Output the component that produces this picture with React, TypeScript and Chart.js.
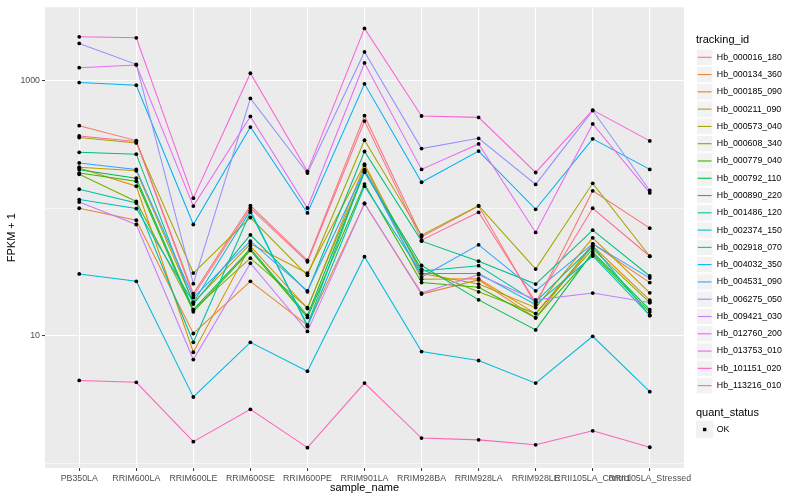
import React, { useEffect, useRef } from "react";
import { Chart, registerables } from "chart.js";

Chart.register(...registerables);

const FONT = "'Liberation Sans', Arial, Helvetica, sans-serif";

const categories = [
  "PB350LA",
  "RRIM600LA",
  "RRIM600LE",
  "RRIM600SE",
  "RRIM600PE",
  "RRIM901LA",
  "RRIM928BA",
  "RRIM928LA",
  "RRIM928LE",
  "RRII105LA_Control",
  "RRII105LA_Stressed",
];

const trackingIds = [
  "Hb_000016_180",
  "Hb_000134_360",
  "Hb_000185_090",
  "Hb_000211_090",
  "Hb_000573_040",
  "Hb_000608_340",
  "Hb_000779_040",
  "Hb_000792_110",
  "Hb_000890_220",
  "Hb_001486_120",
  "Hb_002374_150",
  "Hb_002918_070",
  "Hb_004032_350",
  "Hb_004531_090",
  "Hb_006275_050",
  "Hb_009421_030",
  "Hb_012760_200",
  "Hb_013753_010",
  "Hb_101151_020",
  "Hb_113216_010",
];

const seriesColors = [
  "#F8766D", "#EA8331", "#D89000", "#C09B00", "#A3A500",
  "#7CAE00", "#39B600", "#00BB4E", "#00BF7D", "#00C1A3",
  "#00BFC4", "#00BAE0", "#00B0F6", "#35A2FF", "#9590FF",
  "#C77CFF", "#E76BF3", "#FA62DB", "#FF62BC", "#FF6C91",
];

// FPKM + 1 per sample (in category order)
const Hb_000016_180 = [445, 340, 21.4, 105, 39, 533, 59.7, 104, 17.5, 137, 69.8];
const Hb_000134_360 = [100, 80.5, 10.4, 26.7, 12.1, 109, 21.2, 27.4, 13.8, 52.6, 26.1];
const Hb_000185_090 = [207, 149, 7.41, 50.5, 16.3, 217, 27.7, 28.0, 14.9, 50.5, 19.0];
const Hb_000211_090 = [210, 197, 18.2, 52.6, 30.9, 222, 30.7, 25.4, 16.6, 58.6, 21.7];
const Hb_000573_040 = [359, 326, 31.0, 84.6, 29.8, 342, 61.5, 105, 33.3, 157, 42.0];
const Hb_000608_340 = [185, 113, 16.0, 40.6, 16.6, 195, 33.2, 22.1, 14.9, 47.9, 18.2];
const Hb_000779_040 = [189, 163, 15.4, 46.7, 13.9, 155, 26.1, 24.0, 13.8, 43.7, 15.3];
const Hb_000792_110 = [201, 172, 16.0, 48.1, 14.4, 192, 35.6, 19.1, 11.1, 45.3, 16.0];
const Hb_000890_220 = [275, 266, 17.7, 61.8, 22.1, 279, 55.2, 38.4, 25.4, 67.3, 29.4];
const Hb_001486_120 = [141, 110, 8.87, 93, 12.1, 200, 32.2, 35.4, 18.4, 50.5, 14.4];
const Hb_002374_150 = [117, 99.5, 18.2, 96, 11.8, 149, 30.7, 30.7, 17.5, 42.2, 14.4];
const Hb_002918_070 = [30.5, 26.7, 3.3, 8.87, 5.26, 41.7, 7.5, 6.38, 4.24, 9.88, 3.63];
const Hb_004032_350 = [970, 925, 74.6, 434, 91.9, 948, 160, 281, 98.2, 351, 202];
const Hb_004531_090 = [227, 202, 19.9, 55.2, 22.5, 200, 28.9, 51.6, 22.5, 52.6, 28.3];
const Hb_006275_050 = [1968, 1349, 25.6, 728, 189, 1687, 294, 354, 154, 585, 138];
const Hb_009421_030 = [112, 74.6, 6.49, 37.0, 10.8, 109, 21.6, 30.1, 19.1, 21.6, 18.2];
const Hb_012760_200 = [1270, 1334, 104, 526, 100.5, 1383, 202, 320, 64.6, 459, 132];
const Hb_013753_010 = [2218, 2178, 120, 1148, 195, 2582, 530, 517, 191, 590, 338];
const Hb_101151_020 = [4.45, 4.3, 1.47, 2.64, 1.32, 4.24, 1.57, 1.52, 1.39, 1.79, 1.33];
const Hb_113216_010 = [370, 334, 20.5, 100.5, 38, 484, 56.2, 93, 18.4, 100, 42];

const seriesValues = [
  Hb_000016_180, Hb_000134_360, Hb_000185_090, Hb_000211_090, Hb_000573_040,
  Hb_000608_340, Hb_000779_040, Hb_000792_110, Hb_000890_220, Hb_001486_120,
  Hb_002374_150, Hb_002918_070, Hb_004032_350, Hb_004531_090, Hb_006275_050,
  Hb_009421_030, Hb_012760_200, Hb_013753_010, Hb_101151_020, Hb_113216_010,
];

const yMajorTicks = [10, 1000];
const yMinorTicks = [1, 100];
const quantStatus = ["OK"];

const Y_MIN = 0.914;
const Y_MAX = 3784;

const panelBg = {
  id: "panelBg",
  beforeDraw(chart: any) {
    const { ctx, chartArea: a } = chart;
    ctx.save();
    ctx.fillStyle = "#FFFFFF";
    ctx.fillRect(0, 0, chart.width, chart.height);
    ctx.fillStyle = "#EBEBEB";
    ctx.fillRect(a.left, a.top, a.right - a.left, a.bottom - a.top);
    ctx.restore();
  },
};

const ggLegend = {
  id: "ggLegend",
  afterDraw(chart: any) {
    const { ctx } = chart;
    const x0 = 696;
    const key = 17.28;
    ctx.save();
    ctx.textBaseline = "middle";
    ctx.textAlign = "left";
    ctx.fillStyle = "#000000";
    ctx.font = `11px ${FONT}`;
    ctx.fillText("tracking_id", x0, 40);
    const y0 = 57.3;
    trackingIds.forEach((id, i) => {
      const yc = y0 + i * key;
      ctx.fillStyle = "#F2F2F2";
      ctx.fillRect(x0, yc - key / 2, key, key);
      ctx.strokeStyle = "#FFFFFF";
      ctx.lineWidth = 1;
      ctx.strokeRect(x0 + 0.5, yc - key / 2 + 0.5, key - 1, key - 1);
      ctx.strokeStyle = seriesColors[i];
      ctx.lineWidth = 1.1;
      ctx.beginPath();
      ctx.moveTo(x0 + 1.7, yc);
      ctx.lineTo(x0 + key - 1.7, yc);
      ctx.stroke();
      ctx.fillStyle = "#000000";
      ctx.font = `8.8px ${FONT}`;
      ctx.fillText(id, x0 + key + 3.5, yc);
    });
    ctx.font = `11px ${FONT}`;
    ctx.fillStyle = "#000000";
    ctx.fillText("quant_status", x0, 412.5);
    quantStatus.forEach((q, i) => {
      const yc = 429.5 + i * key;
      ctx.fillStyle = "#F2F2F2";
      ctx.fillRect(x0, yc - key / 2, key, key);
      ctx.fillStyle = "#000000";
      ctx.fillRect(x0 + key / 2 - 1.7, yc - 1.7, 3.4, 3.4);
      ctx.font = `8.8px ${FONT}`;
      ctx.fillText(q, x0 + key + 3.5, yc);
    });
    ctx.restore();
  },
};

export default function App() {
  const canvasRef = useRef<HTMLCanvasElement | null>(null);

  useEffect(() => {
    const canvas = canvasRef.current;
    if (!canvas) return;

    const lineSets = seriesValues.map((vals, i) => ({
      type: "line" as const,
      label: trackingIds[i],
      data: vals.map((v, j) => ({ x: j, y: v })),
      borderColor: seriesColors[i],
      backgroundColor: seriesColors[i],
      borderWidth: 1.05,
      pointRadius: 0,
      fill: false,
      tension: 0,
      order: 100 - i,
    }));

    const pointSet = {
      type: "scatter" as const,
      label: "quant_status",
      data: seriesValues.flatMap((vals) => vals.map((v, j) => ({ x: j, y: v }))),
      backgroundColor: "#000000",
      borderColor: "#000000",
      borderWidth: 0,
      pointRadius: 1.9,
      pointStyle: "circle" as const,
      showLine: false,
      order: 0,
    };

    const chart = new Chart(canvas, {
      type: "line",
      data: { datasets: [...lineSets, pointSet] as any },
      plugins: [panelBg, ggLegend],
      options: {
        animation: false,
        responsive: false,
        maintainAspectRatio: false,
        layout: { padding: { left: 0, right: 116, top: 5, bottom: 0 } },
        plugins: {
          legend: { display: false },
          tooltip: { enabled: false },
        },
        scales: {
          x: {
            type: "linear",
            min: -0.6,
            max: 10.6,
            bounds: "data",
            afterBuildTicks: (s: any) => {
              s.ticks = categories.map((_, i) => ({ value: i }));
            },
            afterFit: (s: any) => {
              s.height = 32;
            },
            ticks: {
              autoSkip: false,
              maxRotation: 0,
              minRotation: 0,
              padding: 2,
              color: "#4D4D4D",
              font: { size: 8.8, family: FONT },
              callback: (v: any) => categories[Math.round(Number(v))] ?? "",
            },
            grid: {
              color: "#FFFFFF",
              lineWidth: 1.1,
              drawTicks: true,
              tickLength: 3,
              tickColor: "#333333",
              tickWidth: 1,
            },
            border: { display: false },
            title: {
              display: true,
              text: "sample_name",
              color: "#000000",
              font: { size: 11, family: FONT },
              padding: { top: 0, bottom: 5 },
            },
          },
          y: {
            type: "logarithmic",
            min: Y_MIN,
            max: Y_MAX,
            bounds: "data",
            afterBuildTicks: (s: any) => {
              s.ticks = [...yMinorTicks, ...yMajorTicks]
                .sort((a, b) => a - b)
                .map((v) => ({ value: v }));
            },
            afterFit: (s: any) => {
              s.width = 45;
            },
            ticks: {
              autoSkip: false,
              padding: 2,
              color: "#4D4D4D",
              font: { size: 8.8, family: FONT },
              callback: (v: any) => (yMajorTicks.includes(Number(v)) ? String(v) : ""),
            },
            grid: {
              color: "#FFFFFF",
              lineWidth: (ctx: any) =>
                ctx.tick && yMajorTicks.includes(ctx.tick.value) ? 1.1 : 0.55,
              drawTicks: true,
              tickLength: 3,
              tickColor: (ctx: any) =>
                ctx.tick && yMajorTicks.includes(ctx.tick.value) ? "#333333" : "rgba(0,0,0,0)",
              tickWidth: 1,
            },
            border: { display: false },
            title: {
              display: true,
              text: "FPKM + 1",
              color: "#000000",
              font: { size: 11, family: FONT },
              padding: { top: 5.4, bottom: 0 },
            },
          },
        },
      } as any,
    });

    return () => chart.destroy();
  }, []);

  return (
    <div style={{ position: "fixed", left: 0, top: 0, width: 800, height: 500, background: "#FFFFFF" }}>
      <canvas ref={canvasRef} width={800} height={500} style={{ width: 800, height: 500, display: "block" }} />
    </div>
  );
}
